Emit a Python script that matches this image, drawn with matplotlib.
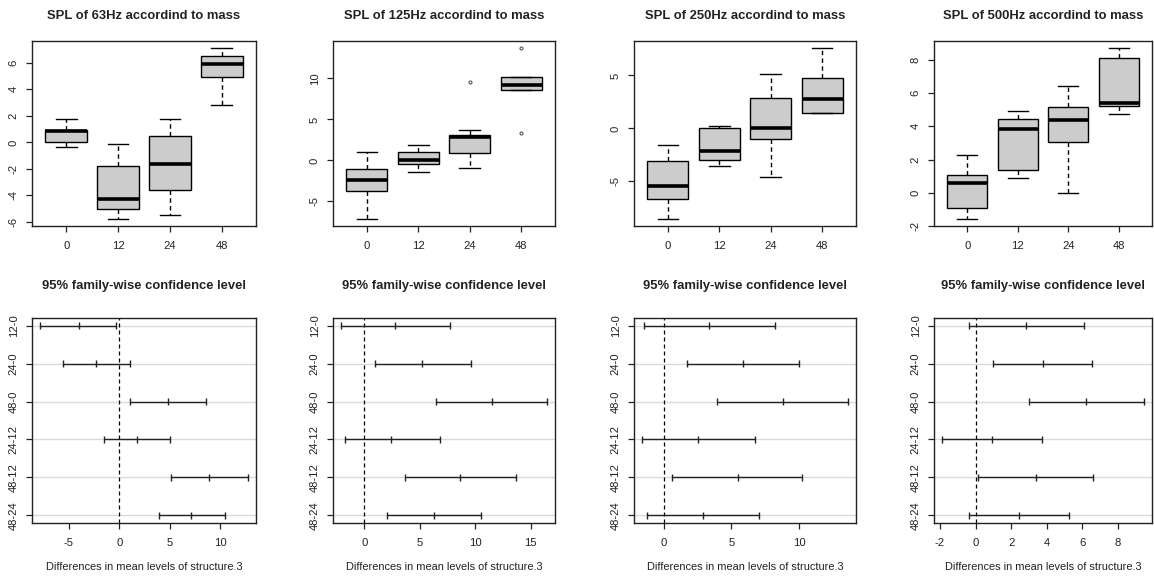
import matplotlib
matplotlib.use("Agg")
import matplotlib.pyplot as plt

plt.rcParams['font.family'] = ['Liberation Sans', 'DejaVu Sans']
plt.rcParams['axes.unicode_minus'] = False

groups = ['0', '12', '24', '48']
freqs = ['63Hz', '125Hz', '250Hz', '500Hz']

# five-number summaries per mass group: [whisker low, q1, median, q3, whisker high]
spl_63 = [[-0.38, 0.0, 0.86, 0.95, 1.74],
          [-5.79, -5.03, -4.3, -1.79, -0.1],
          [-5.48, -3.6, -1.61, 0.48, 1.74],
          [2.84, 4.93, 5.91, 6.49, 7.12]]
spl_125 = [[-7.16, -3.7, -2.44, -1.06, 1.05],
           [-1.39, -0.49, 0.0, 1.05, 1.9],
           [-0.98, 0.85, 2.8, 3.12, 3.66],
           [8.57, 8.57, 9.18, 10.16, 10.16]]
spl_250 = [[-8.56, -6.64, -5.47, -3.05, -1.54],
           [-3.58, -3.02, -2.14, 0.0, 0.25],
           [-4.56, -1.04, 0.03, 2.83, 5.15],
           [1.44, 1.5, 2.76, 4.75, 7.6]]
spl_500 = [[-1.58, -0.9, 0.56, 1.1, 2.25],
           [0.9, 1.4, 3.83, 4.42, 4.92],
           [-0.04, 3.03, 4.38, 5.18, 6.42],
           [4.72, 5.22, 5.38, 8.13, 8.73]]
fliers_63 = [[], [], [], []]
fliers_125 = [[], [], [9.6], [13.73, 3.29]]
fliers_250 = [[], [], [], []]
fliers_500 = [[], [], [], []]

comparisons = ['12-0', '24-0', '48-0', '24-12', '48-12', '48-24']
tukey_63_lwr = [-7.83, -5.6, 1.1, -1.56, 5.1, 3.9]
tukey_63_diff = [-3.96, -2.33, 4.8, 1.74, 8.94, 7.1]
tukey_63_upr = [-0.3, 1.04, 8.64, 5.04, 12.74, 10.44]
tukey_125_lwr = [-2.08, 0.99, 6.5, -1.75, 3.7, 2.02]
tukey_125_diff = [2.8, 5.24, 11.48, 2.44, 8.67, 6.27]
tukey_125_upr = [7.77, 9.61, 16.45, 6.81, 13.67, 10.48]
tukey_250_lwr = [-1.49, 1.71, 3.96, -1.61, 0.59, -1.26]
tukey_250_diff = [3.37, 5.87, 8.79, 2.52, 5.45, 2.9]
tukey_250_upr = [8.22, 10.02, 13.61, 6.71, 10.22, 7.05]
tukey_500_lwr = [-0.37, 0.96, 2.98, -1.88, 0.13, -0.37]
tukey_500_diff = [2.83, 3.79, 6.21, 0.9, 3.38, 2.43]
tukey_500_upr = [6.07, 6.51, 9.45, 3.71, 6.58, 5.26]

box_ticks = [list(range(-6, 7, 2)), [-5, 0, 5, 10], [-5, 0, 5], list(range(-2, 9, 2))]
tukey_ticks = [[-5, 0, 5, 10], [0, 5, 10, 15], [0, 5, 10], list(range(-2, 9, 2))]

spl_all = [spl_63, spl_125, spl_250, spl_500]
fliers_all = [fliers_63, fliers_125, fliers_250, fliers_500]
tukey_all = [(tukey_63_lwr, tukey_63_diff, tukey_63_upr),
             (tukey_125_lwr, tukey_125_diff, tukey_125_upr),
             (tukey_250_lwr, tukey_250_diff, tukey_250_upr),
             (tukey_500_lwr, tukey_500_diff, tukey_500_upr)]

W, H = 1154, 578
fig = plt.figure(figsize=(W / 100, H / 100), dpi=100)
fig.patch.set_facecolor('white')


def px_axes(left, top, w, h):
    return fig.add_axes([left / W, 1 - (top + h) / H, w / W, h / H])


def r_range(lo, hi):
    pad = (hi - lo) * 0.04
    return lo - pad, hi + pad


def style_axes(ax):
    for s in ax.spines.values():
        s.set_linewidth(1.0)
        s.set_color('#222222')
    ax.tick_params(axis='both', length=4.5, width=0.9, color='#222222',
                   labelsize=8.1, labelcolor='#222222')
    ax.tick_params(axis='x', pad=6.0)
    ax.tick_params(axis='y', pad=5.0, labelrotation=90)
    for lab in ax.get_yticklabels():
        lab.set_verticalalignment('center')


lefts = [32, 333, 634, 934]
widths = [224, 222, 222, 218]

for i in range(4):
    # top row: boxplots
    ax = px_axes(lefts[i], 41, widths[i], 185)
    stats = []
    for j, g in enumerate(groups):
        lo, q1, med, q3, hi = spl_all[i][j]
        stats.append(dict(label=g, whislo=lo, q1=q1, med=med, q3=q3, whishi=hi,
                          fliers=fliers_all[i][j]))
    ax.bxp(stats, positions=[1, 2, 3, 4], widths=0.8, patch_artist=True,
           showfliers=True, capwidths=0.4,
           boxprops=dict(facecolor='#CCCCCC', edgecolor='black', linewidth=1.0),
           medianprops=dict(color='black', linewidth=2.6, solid_capstyle='butt'),
           whiskerprops=dict(color='black', linewidth=1.0, linestyle=(0, (3.2, 2.4))),
           capprops=dict(color='black', linewidth=1.0),
           flierprops=dict(marker='o', markersize=2.2, markerfacecolor='none',
                           markeredgecolor='#444444', markeredgewidth=0.7))
    vals = [v for row in spl_all[i] for v in row] + [v for f in fliers_all[i] for v in f]
    ax.set_ylim(*r_range(min(vals), max(vals)))
    ax.set_xlim(0.34, 4.66)
    ax.set_xticks([1, 2, 3, 4])
    ax.set_xticklabels(groups)
    ax.set_yticks(box_ticks[i])
    style_axes(ax)
    ax.annotate(f'SPL of {freqs[i]} accordind to mass', xy=(0.5, 1), xycoords='axes fraction',
                xytext=(0, 18), textcoords='offset points', ha='center', va='center',
                fontsize=9.4, fontweight='bold', color='#222222')

    # bottom row: Tukey HSD intervals
    ax = px_axes(lefts[i], 318, widths[i], 205)
    lwr, diff, upr = tukey_all[i]
    yvals = list(range(len(comparisons), 0, -1))
    for y in yvals:
        ax.axhline(y, color='#DADADA', linewidth=1.0, zorder=1)
    ax.axvline(0, color='black', linestyle=(0, (3.2, 2.4)), linewidth=0.9, zorder=2)
    ax.hlines(yvals, lwr, upr, color='#222222', linewidth=1.0, zorder=3)
    for arr in (lwr, diff, upr):
        ax.vlines(arr, [y - 0.1 for y in yvals], [y + 0.1 for y in yvals],
                  color='#222222', linewidth=1.0, zorder=3)
    ax.set_ylim(*r_range(1, len(comparisons)))
    ax.set_xlim(*r_range(min(lwr), max(upr)))
    ax.set_yticks(yvals)
    ax.set_yticklabels(comparisons)
    ax.set_xticks(tukey_ticks[i])
    style_axes(ax)
    ax.annotate('95% family-wise confidence level', xy=(0.5, 1), xycoords='axes fraction',
                xytext=(0, 23), textcoords='offset points', ha='center', va='center',
                fontsize=9.4, fontweight='bold', color='#222222')
    ax.annotate('Differences in mean levels of structure.3', xy=(0.5, 0),
                xycoords='axes fraction', xytext=(0, -31.5), textcoords='offset points',
                ha='center', va='center', fontsize=7.9, color='#222222')

fig.savefig('out.png', dpi=100, facecolor='white')
